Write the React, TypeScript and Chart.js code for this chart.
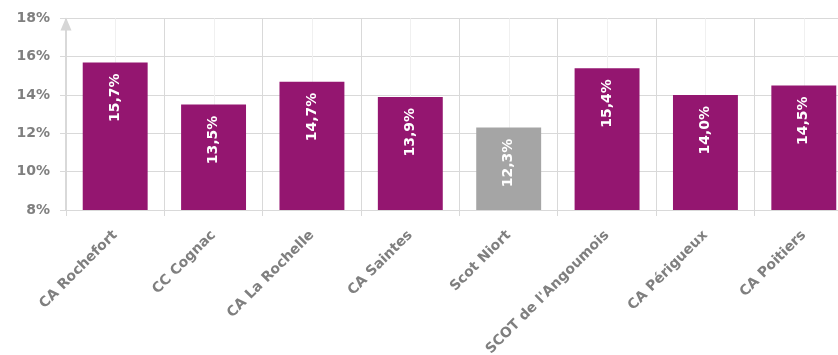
import React, { useEffect, useRef } from "react";
import { Chart, registerables } from "chart.js";

Chart.register(...registerables);

const categories = [
  "CA Rochefort",
  "CC Cognac",
  "CA La Rochelle",
  "CA Saintes",
  "Scot Niort",
  "SCOT de l'Angoumois",
  "CA Périgueux",
  "CA Poitiers",
];
const values = [15.7, 13.5, 14.7, 13.9, 12.3, 15.4, 14.0, 14.5];
const greyCategory = "Scot Niort";
const yMin = 8;
const yMax = 18;

const PURPLE = "#941670";
const GREY = "#A5A5A5";
const TEXT = "#7f7f7f";
const GRID = "#d9d9d9";
const GRID_MINOR = "#f0f0f0";
const FONT = "'DejaVu Sans', sans-serif";

const fmt = (v: number) => v.toFixed(1).replace(".", ",") + "%";

const decoPlugin = {
  id: "deco",
  beforeDatasetsDraw(chart: any) {
    const { ctx, chartArea } = chart;
    const x = chart.scales.x;
    ctx.save();
    ctx.strokeStyle = GRID_MINOR;
    ctx.lineWidth = 1;
    for (let i = 0; i < categories.length; i++) {
      const px = Math.round(x.getPixelForValue(i)) + 0.5;
      ctx.beginPath();
      ctx.moveTo(px, chartArea.top);
      ctx.lineTo(px, chartArea.bottom);
      ctx.stroke();
    }
    ctx.restore();
  },
  afterDatasetsDraw(chart: any) {
    const { ctx, chartArea } = chart;
    const meta = chart.getDatasetMeta(0);
    ctx.save();
    ctx.fillStyle = "#ffffff";
    ctx.font = `bold 14px ${FONT}`;
    meta.data.forEach((bar: any, i: number) => {
      ctx.save();
      ctx.translate(bar.x, bar.y + 11);
      ctx.rotate(-Math.PI / 2);
      ctx.textAlign = "right";
      ctx.textBaseline = "middle";
      ctx.fillText(fmt(values[i]), 0, 0);
      ctx.restore();
    });
    const ax = chartArea.left;
    ctx.fillStyle = "#d6d6d6";
    ctx.beginPath();
    ctx.moveTo(ax, chartArea.top - 1);
    ctx.lineTo(ax - 5.5, chartArea.top + 12);
    ctx.lineTo(ax + 5.5, chartArea.top + 12);
    ctx.closePath();
    ctx.fill();
    ctx.restore();
  },
};

export default function App() {
  const ref = useRef<HTMLCanvasElement | null>(null);
  useEffect(() => {
    if (!ref.current) return;
    const chart = new Chart(ref.current, {
      type: "bar",
      data: {
        labels: categories,
        datasets: [
          {
            data: values,
            backgroundColor: categories.map((c) => (c === greyCategory ? GREY : PURPLE)),
            categoryPercentage: 1,
            barPercentage: 0.66,
          },
        ],
      },
      plugins: [decoPlugin],
      options: {
        animation: false,
        responsive: false,
        devicePixelRatio: 1,
        layout: { padding: { left: 0, top: 17, right: 7, bottom: 0 } },
        plugins: { legend: { display: false }, tooltip: { enabled: false } },
        scales: {
          x: {
            afterFit: (s: any) => {
              s.height = 145;
            },
            grid: {
              offset: true,
              color: GRID,
              tickColor: GRID,
              tickLength: 6,
            },
            border: { color: GRID, width: 1 },
            ticks: {
              color: TEXT,
              font: { family: FONT, size: 14, weight: "bold" },
              minRotation: 45,
              maxRotation: 45,
              padding: 11,
              autoSkip: false,
            },
          },
          y: {
            min: yMin,
            max: yMax,
            afterFit: (s: any) => {
              s.width = 66;
            },
            grid: {
              color: (c: any) => (c.tick && c.tick.value % 2 === 0 ? GRID : GRID_MINOR),
              tickColor: (c: any) => (c.tick && c.tick.value % 2 === 0 ? GRID : "rgba(0,0,0,0)"),
              tickLength: 6,
            },
            border: { color: GRID, width: 1.5 },
            ticks: {
              stepSize: 1,
              color: TEXT,
              font: { family: FONT, size: 14, weight: "bold" },
              padding: 10,
              callback: (v: any) => (Number(v) % 2 === 0 ? `${v}%` : ""),
            },
          },
        },
      },
    });
    return () => chart.destroy();
  }, []);
  return (
    <div
      style={{
        position: "fixed",
        left: 0,
        top: 0,
        width: 838,
        height: 355,
        overflow: "hidden",
        background: "#fff",
      }}
    >
      <canvas ref={ref} width={860} height={355} style={{ width: 860, height: 355, display: "block" }} />
    </div>
  );
}
